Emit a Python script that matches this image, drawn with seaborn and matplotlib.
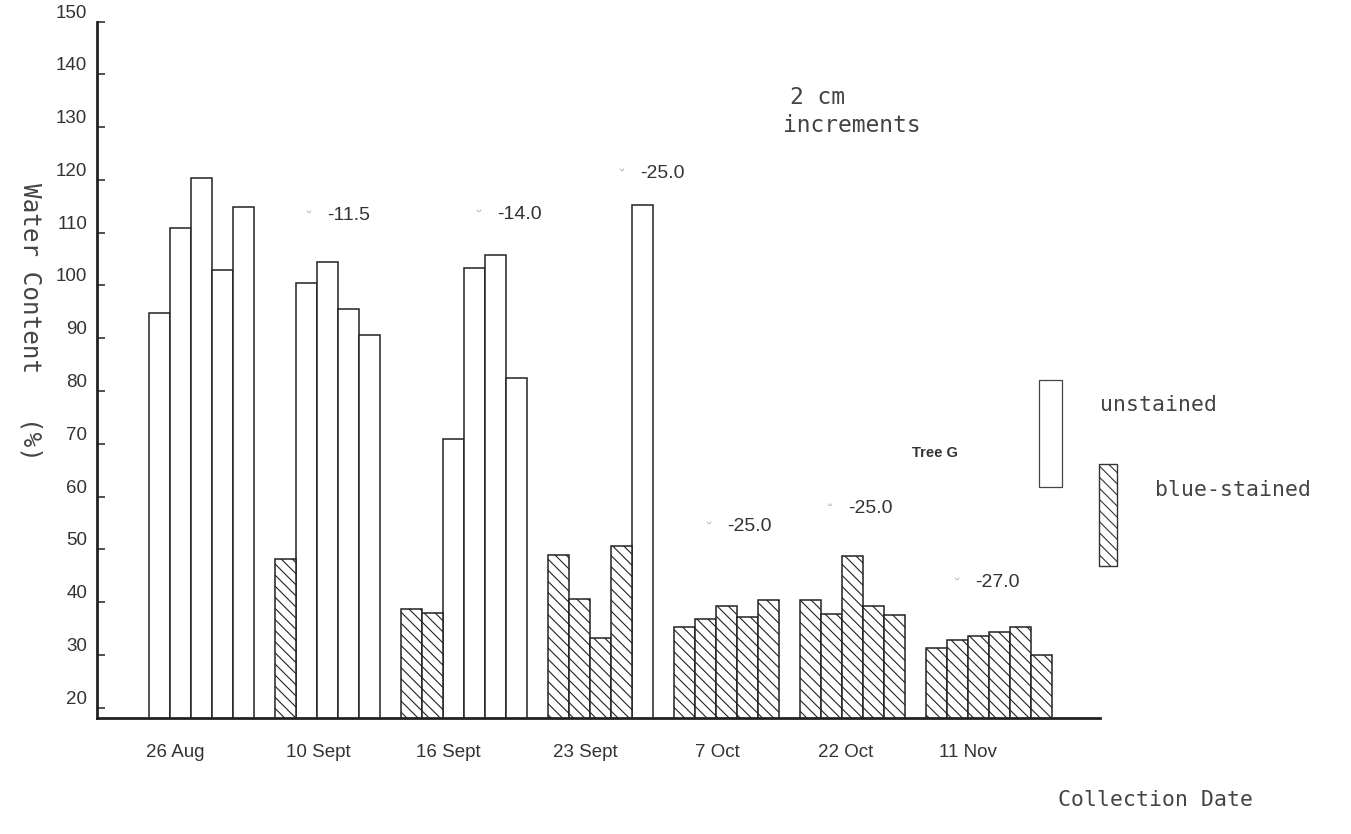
import pandas as pd
import matplotlib
matplotlib.use('Agg')
import matplotlib.pyplot as plt
import seaborn as sns
from matplotlib.patches import Rectangle

# Collection dates and water content (%) of each 2 cm increment
dates = ['26 Aug', '10 Sept', '16 Sept', '23 Sept', '7 Oct', '22 Oct', '11 Nov']
aug26 = [94.7, 110.8, 120.3, 103.0, 114.8]
sep10 = [48.2, 100.4, 104.5, 95.6, 90.7]
sep16 = [38.7, 37.9, 70.9, 103.3, 105.7, 82.4]
sep23 = [49.0, 40.5, 33.2, 50.6, 115.2]
oct7 = [35.3, 36.8, 39.3, 37.2, 40.4]
oct22 = [40.4, 37.7, 48.7, 39.2, 37.6]
nov11 = [31.3, 32.9, 33.6, 34.4, 35.3, 29.9]

# 1 = blue-stained, 0 = unstained
aug26_stain = [0, 0, 0, 0, 0]
sep10_stain = [1, 0, 0, 0, 0]
sep16_stain = [1, 1, 0, 0, 0, 0]
sep23_stain = [1, 1, 1, 1, 0]
oct7_stain = [1, 1, 1, 1, 1]
oct22_stain = [1, 1, 1, 1, 1]
nov11_stain = [1, 1, 1, 1, 1, 1]

# water potential labels per date
psi = [None, '-11.5', '-14.0', '-25.0', '-25.0', '-25.0', '-27.0']

yticks = [20, 30, 40, 50, 60, 70, 80, 90, 100, 110, 120, 130, 140, 150]

# layout only (offsets of the psi labels from first bar of the group, in bars)
psi_dx = [0, 1.98, 4.07, 3.88, 2.02, 1.79, 1.83]
psi_y = [0, 113.3, 113.5, 121.3, 54.4, 57.8, 43.8]
label_dx = [-1.26, -0.45, -0.76, -0.71, -0.43, -0.33, -0.98]

values = [aug26, sep10, sep16, sep23, oct7, oct22, nov11]
stains = [aug26_stain, sep10_stain, sep16_stain, sep23_stain,
          oct7_stain, oct22_stain, nov11_stain]

# one row per bar, one empty slot between dates
rows = []
starts, centers = [], []
slot = 0
for date, vals, st in zip(dates, values, stains):
    starts.append(slot)
    centers.append(slot + (len(vals) - 1) / 2)
    for v, s in zip(vals, st):
        rows.append({'slot': slot, 'date': date, 'water': v,
                     'stain': 'blue-stained' if s else 'unstained'})
        slot += 1
    slot += 1
df = pd.DataFrame(rows)

sns.set_theme(style='ticks')
plt.rcParams['font.family'] = ['Liberation Sans', 'DejaVu Sans']
plt.rcParams['hatch.linewidth'] = 0.8

W, H = 1351, 834
fig = plt.figure(figsize=(W / 100, H / 100), dpi=100)
fig.patch.set_facecolor('white')
ax = fig.add_axes([97 / W, 1 - 717.7 / H, (1100 - 97) / W, (717.7 - 21.6) / H])

sns.barplot(data=df, x='slot', y='water', hue='stain',
            hue_order=['unstained', 'blue-stained'],
            palette={'unstained': 'white', 'blue-stained': 'white'},
            native_scale=True, width=1, dodge=False, errorbar=None,
            edgecolor='#222222', linewidth=1.1, legend=False, ax=ax)

stain_at = dict(zip(df['slot'], df['stain']))
for bar in ax.patches:
    xc = round(bar.get_x() + bar.get_width() / 2)
    if stain_at.get(xc) == 'blue-stained':
        bar.set_hatch('\\\\\\')

ax.set_xlim(-2.98, 44.79)
ax.set_ylim(18.1, 150)
ax.set_yticks(yticks)
ax.set_yticklabels([str(t) for t in yticks], fontsize=13.5, color='#333333')
for lab in ax.get_yticklabels():
    lab.set_va('bottom')
ax.tick_params(axis='y', direction='in', length=6, width=1.2, pad=7, colors='#333333')
ax.set_xticks([c + d for c, d in zip(centers, label_dx)])
ax.set_xticklabels(dates, fontsize=13.5, color='#333333')
ax.tick_params(axis='x', length=0, pad=19)
ax.set_xlabel('')
ax.set_ylabel('')
sns.despine(ax=ax)
for side in ['left', 'bottom']:
    ax.spines[side].set_linewidth(2)
    ax.spines[side].set_color('#222222')

for st, lab, dx, yy in zip(starts, psi, psi_dx, psi_y):
    if lab is None:
        continue
    ax.text(st + dx - 1.0, yy - 0.6, '\u02d8', fontsize=10, color='#aaaaaa',
            ha='left', va='center')
    ax.text(st + dx, yy, lab, fontsize=14, color='#333333', ha='left', va='center')

mono = ['DejaVu Sans Mono']
fig.text(30 / W, 1 - 322 / H, 'Water Content   (%)', rotation=-90, ha='center',
         va='center', family=mono, fontsize=17.5, color='#444444')
fig.text(1155 / W, 1 - 800 / H, 'Collection Date', ha='center', va='center',
         family=mono, fontsize=15.5, color='#444444')
fig.text(790 / W, 1 - 97 / H, '2 cm', ha='left', va='center',
         family=mono, fontsize=16.5, color='#444444')
fig.text(783 / W, 1 - 125 / H, 'increments', ha='left', va='center',
         family=mono, fontsize=16.5, color='#444444')
fig.text(912 / W, 1 - 453 / H, 'Tree G', ha='left', va='center',
         fontsize=10.5, fontweight='bold', color='#333333')

# hand-drawn style legend
fig.add_artist(Rectangle((1039 / W, 1 - 487 / H), 23 / W, 107 / H,
                         transform=fig.transFigure, facecolor='white',
                         edgecolor='#444444', linewidth=0.9))
fig.add_artist(Rectangle((1099 / W, 1 - 566 / H), 18 / W, 102 / H,
                         transform=fig.transFigure, facecolor='white',
                         edgecolor='#333333', linewidth=1.0, hatch='\\\\\\'))
fig.text(1100 / W, 1 - 405 / H, 'unstained', ha='left', va='center',
         family=mono, fontsize=15.5, color='#444444')
fig.text(1155 / W, 1 - 490 / H, 'blue-stained', ha='left', va='center',
         family=mono, fontsize=15.5, color='#444444')

fig.savefig('out.png', dpi=100)
